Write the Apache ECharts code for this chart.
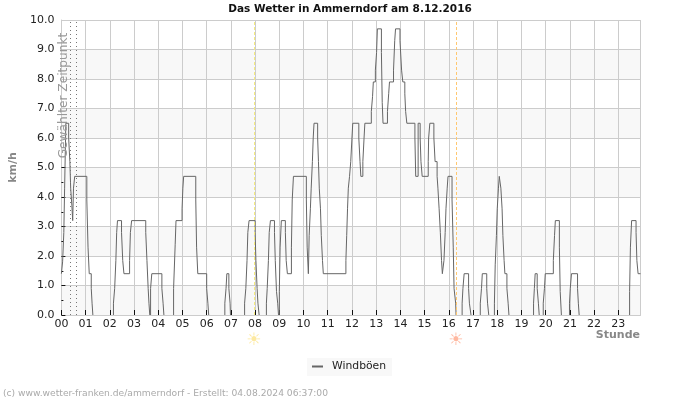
<!DOCTYPE html>
<html><head><meta charset="utf-8">
<style>html,body{margin:0;padding:0;background:#fff}#c{width:700px;height:400px}</style>
<script src="https://cdn.jsdelivr.net/npm/echarts@6/dist/echarts.min.js"></script>
</head><body><div id="c"></div>
<script>
const title = 'Das Wetter in Ammerndorf am 8.12.2016';
const footer = '(c) www.wetter-franken.de/ammerndorf - Erstellt: 04.08.2024 06:37:00';
const seriesName = 'Windböen';
const minutes = [0,3,6,8,11,18,21,23,26,28,30,33,63,66,69,74,76,78,
129,132,135,137,139,149,152,155,169,171,174,209,212,215,217,219,221,224,249,252,254,
278,282,284,299,301,303,333,335,338,360,363,365,
405,408,410,415,418,419,
454,457,460,462,465,480,482,485,487,490,
508,510,513,515,518,528,530,533,536,538,540,542,545,555,557,560,570,572,575,607,609,612,614,617,619,622,624,626,635,637,639,642,644,647,649,
705,707,709,711,714,717,720,722,737,740,742,747,750,752,768,771,773,778,781,783,793,795,797,808,811,813,823,826,828,839,843,846,851,853,856,876,878,884,889,891,894,909,910,913,923,926,931,933,936,939,942,944,948,951,953,956,958,968,971,973,977,978,
993,995,998,1009,1011,1015,1038,1041,1043,1054,1056,1059,
1073,1075,1078,1080,1083,1085,1089,1092,1094,1097,1099,1104,1107,1109,
1170,1172,1174,1179,1182,1184,1194,1197,1199,1219,1222,1224,1234,1236,1239,
1259,1261,1264,1279,1281,1283,
1408,1410,1413,1424,1426,1429,1435];
const gusts = [1.4,1.8,2.8,4.3,6.5,6.0,5.2,4.3,3.7,3.2,4.3,4.7,3.9,2.3,1.4,0.9,0.4,0,
0.4,0.9,1.85,2.8,3.2,2.8,1.85,1.4,1.85,2.8,3.2,2.8,1.85,0.9,0.4,0,0.9,1.4,0.9,0.4,0,
0.9,2.4,3.2,3.6,4.3,4.7,3.9,2.3,1.4,0.9,0.4,0,
0.4,0.9,1.4,0.9,0.4,0,
0.4,0.9,1.85,2.8,3.2,2.8,1.85,0.9,0.4,0,
0.4,0.9,1.85,2.8,3.2,2.8,1.85,0.8,0.4,0,0.8,2.3,3.2,2.8,1.85,1.4,2.3,3.9,4.7,3.9,2.3,1.4,2.7,3.6,4.3,5.2,6.0,6.5,6.0,5.2,4.3,3.6,2.7,1.85,1.4,
1.85,2.7,3.6,4.3,4.7,5.2,6.0,6.5,6.0,5.2,4.7,5.2,6.0,6.5,6.9,7.4,7.9,8.3,8.9,9.7,8.9,7.2,6.5,6.9,7.5,7.9,8.3,9.3,9.7,9.3,8.3,7.9,7.5,6.9,6.5,6.0,4.7,6.5,6.0,5.2,4.7,5.2,6.0,6.5,6.0,5.2,4.7,4.3,3.6,2.8,1.85,1.4,1.85,2.8,3.6,4.3,4.7,3.9,2.3,0.9,0.4,0,
0.4,0.9,1.4,0.9,0.4,0,0.4,0.9,1.4,0.9,0.4,0,
0.4,1.7,2.7,3.6,4.3,4.7,4.3,3.6,2.7,1.85,1.4,0.9,0.4,0,
0.4,0.9,1.4,0.9,0.4,0,0.4,0.9,1.4,1.85,2.7,3.2,2.3,0.8,0,
0.4,0.9,1.4,0.9,0.4,0,
0.8,2.3,3.2,2.8,1.85,1.4,1.4];
const selectedTimes = [23, 38];
const sunrise = 479, sunset = 979;
const majorTicks = [0,1,2,3,4,5];
const minorTicks = [0.5,1.5,2.5,3.5,4.5];

// Calm periods (0 km/h) are not drawn: the line drops to the axis, breaks, and rises again.
const lineData = [];
minutes.forEach((m,i)=>{
  const v = gusts[i];
  if (i>0 && gusts[i-1]===0) lineData.push([m,0]);
  lineData.push([m,v]);
  if (v===0) lineData.push([m,null]);
});

const F = 'DejaVu Sans';
const chart = echarts.init(document.getElementById('c'), null, {renderer:'canvas'});
const vline = (x,color,type) => ({xAxis:x, lineStyle:{color,type,width:1}});
const sun = (x,color) => ({type:'text', x:x, y:341, z:5, style:{text:'\u2600', font:'17px "DejaVu Sans"', fill:color, textAlign:'center', textVerticalAlign:'middle'}});
const tickAxis = (values,length) => ({type:'value',min:0,max:10,position:'left',
    axisLine:{show:false},axisLabel:{show:false},splitLine:{show:false},splitArea:{show:false},
    axisTick:{show:true,inside:true,length,customValues:values,lineStyle:{color:'#111'}}});
chart.setOption({
  animation:false,
  backgroundColor:'#fff',
  textStyle:{fontFamily:F},
  title:{text:title,left:'center',top:4,padding:0,itemGap:0,
    textStyle:{fontFamily:F,fontSize:10.5,fontWeight:'bold',color:'#111'}},
  grid:{left:61,right:59.5,top:20,bottom:85},
  legend:{left:307,top:358,padding:[3,6,4,5],backgroundColor:'#f8f8f8',itemWidth:11,itemHeight:2,
    icon:'rect',itemGap:0,textStyle:{fontFamily:F,fontSize:10.8,color:'#222',padding:[0,0,0,4]},data:[seriesName]},
  xAxis:{type:'value',min:0,max:1435,interval:60,
    axisLine:{show:true,lineStyle:{color:'#ccc'}},
    axisTick:{show:true,inside:true,length:5,lineStyle:{color:'#111'}},
    axisLabel:{color:'#222',fontSize:11,margin:4,showMaxLabel:false,
      formatter:v=>String(v/60).padStart(2,'0')},
    splitLine:{show:true,lineStyle:{color:'#ccc'}}},
  yAxis:[{type:'value',min:0,max:10,interval:1,
    axisLine:{show:true,lineStyle:{color:'#ccc'}},
    axisTick:{show:false},
    axisLabel:{color:'#222',fontSize:11,margin:7,formatter:v=>v.toFixed(1)},
    splitLine:{show:true,lineStyle:{color:'#ccc'}},
    splitArea:{show:true,areaStyle:{color:['#f8f8f8','#ffffff']}},
    name:'km/h',nameLocation:'middle',nameGap:38,nameRotate:90,
    nameTextStyle:{fontFamily:F,fontSize:11,fontWeight:'bold',color:'#888'}},
    tickAxis(majorTicks,4),tickAxis(minorTicks,2)],
  series:[{name:seriesName,type:'line',step:'end',showSymbol:false,symbol:'none',connectNulls:false,
    data:lineData,
    itemStyle:{color:'#666'},lineStyle:{color:'#666',width:1},
    markLine:{silent:true,symbol:'none',label:{show:false},animation:false,
      data:[vline(selectedTimes[0],'#777',[1,3]),vline(selectedTimes[1],'#777',[1,3]),
            vline(sunrise,'#f5ec80',[3,2]),vline(sunset,'#ffc870',[3,2])]}}],
  graphic:[
    {type:'text',x:63.5,y:95.5,rotation:Math.PI/2,z:5,style:{text:'Gewählter Zeitpunkt',font:'12.2px "DejaVu Sans"',fill:'#999',textAlign:'center',textVerticalAlign:'middle'}},
    sun(254,'#fde9a0'),sun(456,'#ffb8a0'),
    {type:'text',x:640,y:335,style:{text:'Stunde',font:'bold 11px "DejaVu Sans"',fill:'#888',textAlign:'right',textVerticalAlign:'middle'}},
    {type:'text',x:3,y:389,style:{text:footer,font:'9.17px "DejaVu Sans"',fill:'#aaa'}}
  ]
});
</script></body></html>
